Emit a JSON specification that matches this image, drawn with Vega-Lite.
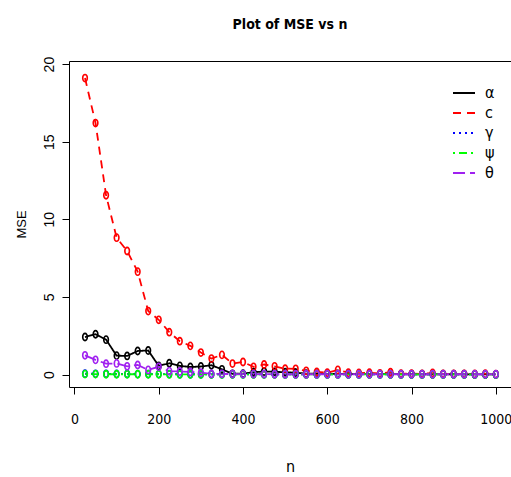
{
  "$schema": "https://vega.github.io/schema/vega-lite/v6.json",
  "width": 442,
  "height": 326,
  "autosize": {"type": "none"},
  "padding": {"left": 69, "top": 61, "right": 0, "bottom": 90},
  "background": "white",
  "title": {
    "text": "Plot of MSE vs n",
    "font": "DejaVu Sans Condensed, Liberation Sans",
    "fontSize": 14,
    "fontWeight": "bold",
    "color": "black",
    "anchor": "middle",
    "baseline": "alphabetic",
    "offset": 13
  },
  "config": {
    "view": {"stroke": null},
    "axis": {
      "grid": false,
      "domainColor": "black",
      "domainWidth": 1,
      "tickColor": "black",
      "tickWidth": 1,
      "tickSize": 7,
      "labelColor": "black",
      "titleColor": "black",
      "titleFontWeight": "normal"
    }
  },
  "data": {
    "values": [
      {"n": 25, "α": 2.42, "c": 19.1, "γ": 0.06, "ψ": 0.03, "θ": 1.24},
      {"n": 50, "α": 2.6, "c": 16.2, "γ": 0.05, "ψ": 0.03, "θ": 0.95},
      {"n": 75, "α": 2.25, "c": 11.55, "γ": 0.05, "ψ": 0.02, "θ": 0.7},
      {"n": 100, "α": 1.22, "c": 8.82, "γ": 0.04, "ψ": 0.02, "θ": 0.72},
      {"n": 125, "α": 1.2, "c": 7.96, "γ": 0.04, "ψ": 0.02, "θ": 0.53},
      {"n": 150, "α": 1.52, "c": 6.63, "γ": 0.03, "ψ": 0.02, "θ": 0.62},
      {"n": 175, "α": 1.55, "c": 4.09, "γ": 0.03, "ψ": 0.02, "θ": 0.3},
      {"n": 200, "α": 0.56, "c": 3.53, "γ": 0.03, "ψ": 0.02, "θ": 0.5},
      {"n": 225, "α": 0.73, "c": 2.73, "γ": 0.03, "ψ": 0.01, "θ": 0.22},
      {"n": 250, "α": 0.56, "c": 2.15, "γ": 0.02, "ψ": 0.01, "θ": 0.2},
      {"n": 275, "α": 0.49, "c": 1.85, "γ": 0.02, "ψ": 0.01, "θ": 0.17},
      {"n": 300, "α": 0.52, "c": 1.42, "γ": 0.02, "ψ": 0.01, "θ": 0.12},
      {"n": 325, "α": 0.6, "c": 1.03, "γ": 0.02, "ψ": 0.01, "θ": 0.04},
      {"n": 350, "α": 0.34, "c": 1.27, "γ": 0.02, "ψ": 0.01, "θ": 0.05},
      {"n": 375, "α": 0.05, "c": 0.71, "γ": 0.02, "ψ": 0.01, "θ": 0.03},
      {"n": 400, "α": 0.06, "c": 0.81, "γ": 0.02, "ψ": 0.01, "θ": 0.03},
      {"n": 425, "α": 0.15, "c": 0.5, "γ": 0.02, "ψ": 0.01, "θ": 0.03},
      {"n": 450, "α": 0.2, "c": 0.65, "γ": 0.02, "ψ": 0.01, "θ": 0.03},
      {"n": 475, "α": 0.18, "c": 0.53, "γ": 0.02, "ψ": 0.01, "θ": 0.02},
      {"n": 500, "α": 0.15, "c": 0.38, "γ": 0.01, "ψ": 0.01, "θ": 0.02},
      {"n": 525, "α": 0.12, "c": 0.37, "γ": 0.01, "ψ": 0.01, "θ": 0.02},
      {"n": 550, "α": 0.06, "c": 0.24, "γ": 0.01, "ψ": 0.01, "θ": 0.02},
      {"n": 575, "α": 0.05, "c": 0.17, "γ": 0.01, "ψ": 0.01, "θ": 0.02},
      {"n": 600, "α": 0.05, "c": 0.12, "γ": 0.01, "ψ": 0.01, "θ": 0.02},
      {"n": 625, "α": 0.04, "c": 0.3, "γ": 0.01, "ψ": 0.01, "θ": 0.02},
      {"n": 650, "α": 0.04, "c": 0.12, "γ": 0.01, "ψ": 0.01, "θ": 0.02},
      {"n": 675, "α": 0.03, "c": 0.1, "γ": 0.01, "ψ": 0.01, "θ": 0.02},
      {"n": 700, "α": 0.03, "c": 0.12, "γ": 0.01, "ψ": 0.01, "θ": 0.02},
      {"n": 725, "α": 0.03, "c": 0.08, "γ": 0.01, "ψ": 0.01, "θ": 0.02},
      {"n": 750, "α": 0.03, "c": 0.15, "γ": 0.01, "ψ": 0.01, "θ": 0.02},
      {"n": 775, "α": 0.02, "c": 0.06, "γ": 0.01, "ψ": 0.01, "θ": 0.02},
      {"n": 800, "α": 0.02, "c": 0.06, "γ": 0.01, "ψ": 0.01, "θ": 0.02},
      {"n": 825, "α": 0.02, "c": 0.05, "γ": 0.01, "ψ": 0.01, "θ": 0.02},
      {"n": 850, "α": 0.02, "c": 0.1, "γ": 0.01, "ψ": 0.01, "θ": 0.02},
      {"n": 875, "α": 0.02, "c": 0.05, "γ": 0.01, "ψ": 0.01, "θ": 0.02},
      {"n": 900, "α": 0.02, "c": 0.04, "γ": 0.01, "ψ": 0.01, "θ": 0.02},
      {"n": 925, "α": 0.02, "c": 0.05, "γ": 0.01, "ψ": 0.01, "θ": 0.02},
      {"n": 950, "α": 0.01, "c": 0.04, "γ": 0.01, "ψ": 0.01, "θ": 0.02},
      {"n": 975, "α": 0.01, "c": 0.06, "γ": 0.01, "ψ": 0.01, "θ": 0.02},
      {"n": 1000, "α": 0.01, "c": 0.03, "γ": 0.01, "ψ": 0.01, "θ": 0.02}
    ]
  },
  "transform": [
    {"fold": ["α", "c", "γ", "ψ", "θ"], "as": ["param", "MSE"]}
  ],
  "encoding": {
    "color": {
      "field": "param",
      "type": "nominal",
      "scale": {
        "domain": ["α", "c", "γ", "ψ", "θ"],
        "range": ["#000000", "#FF0000", "#0000FF", "#00FF00", "#A020F0"]
      },
      "legend": {
        "orient": "none",
        "legendX": 383,
        "legendY": 20,
        "title": null,
        "padding": 0,
        "symbolType": "stroke",
        "symbolSize": 484,
        "symbolStrokeWidth": 2,
        "labelFont": "DejaVu Sans Condensed, Liberation Sans",
        "labelFontSize": 16,
        "labelColor": "black",
        "labelOffset": 9,
        "rowPadding": 0
      }
    }
  },
  "layer": [
    {
      "mark": {"type": "line", "strokeWidth": 1.8},
      "encoding": {
        "x": {
          "field": "n",
          "type": "quantitative",
          "scale": {"domain": [-13, 1036], "nice": false, "zero": false},
          "axis": {
            "orient": "bottom",
            "values": [0, 200, 400, 600, 800, 1000],
            "format": "d",
            "labelFont": "DejaVu Sans Condensed, Liberation Sans",
            "labelFontSize": 14,
            "labelPadding": 18,
            "title": "n",
            "titleFont": "DejaVu Sans Condensed, Liberation Sans",
            "titleFontSize": 16,
            "titleBaseline": "alphabetic",
            "titlePadding": 45
          }
        },
        "y": {
          "field": "MSE",
          "type": "quantitative",
          "scale": {"domain": [-0.8, 20.2], "nice": false, "zero": false},
          "axis": {
            "orient": "left",
            "values": [0, 5, 10, 15, 20],
            "labelAngle": 270,
            "labelAlign": "center",
            "labelBaseline": "alphabetic",
            "labelPadding": 9,
            "labelFont": "Liberation Sans",
            "labelFontSize": 14,
            "title": "MSE",
            "titleFont": "Liberation Sans",
            "titleFontSize": 13,
            "titlePadding": 14
          }
        },
        "strokeDash": {
          "field": "param",
          "type": "nominal",
          "scale": {
            "domain": ["α", "c", "γ", "ψ", "θ"],
            "range": [[1, 0], [8, 6], [2, 4], [2, 4, 8, 4], [12, 5]]
          },
          "legend": {
            "orient": "none",
            "legendX": 383,
            "legendY": 20,
            "title": null,
            "padding": 0,
            "symbolType": "stroke",
            "symbolSize": 484,
            "symbolStrokeWidth": 2,
            "labelFont": "DejaVu Sans Condensed, Liberation Sans",
            "labelFontSize": 16,
            "labelColor": "black",
            "labelOffset": 9,
            "rowPadding": 0
          }
        }
      }
    },
    {
      "mark": {
        "type": "point",
        "shape": "M -0.64 0 A 0.64 1 0 1 1 0.64 0 A 0.64 1 0 1 1 -0.64 0 Z",
        "size": 52,
        "strokeWidth": 1.6,
        "filled": false,
        "opacity": 1
      },
      "encoding": {
        "x": {
          "field": "n",
          "type": "quantitative",
          "axis": {
            "orient": "top",
            "labels": false,
            "ticks": false,
            "title": null
          }
        },
        "y": {
          "field": "MSE",
          "type": "quantitative",
          "axis": null
        }
      }
    }
  ],
  "resolve": {"axis": {"x": "independent", "y": "independent"}}
}
